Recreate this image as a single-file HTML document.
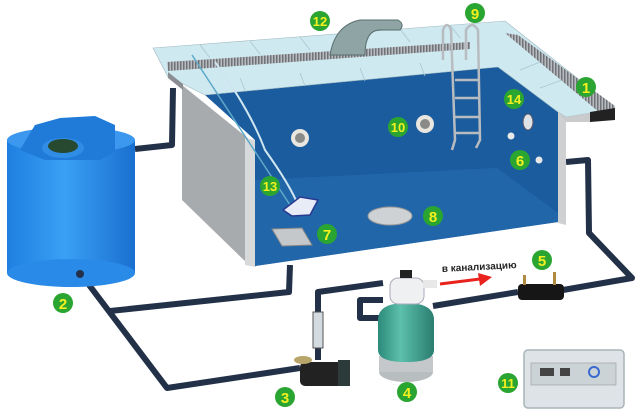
<!DOCTYPE html>
<html><head><meta charset="utf-8"><style>
html,body{margin:0;padding:0;background:#fff;}
svg{display:block}
.lb{font-family:"Liberation Sans",sans-serif;font-weight:bold;font-size:15px;fill:#f4f020;text-anchor:middle}
</style></head><body>
<svg width="640" height="420" viewBox="0 0 640 420" xmlns="http://www.w3.org/2000/svg">
<defs>
<linearGradient id="tank" x1="0" x2="1">
<stop offset="0" stop-color="#1f7fe0"/><stop offset="0.45" stop-color="#3aa0f5"/><stop offset="1" stop-color="#1a6fcf"/></linearGradient>
<linearGradient id="filt" x1="0" x2="1">
<stop offset="0" stop-color="#2c8a7a"/><stop offset="0.4" stop-color="#5cc0ac"/><stop offset="1" stop-color="#2a7d70"/></linearGradient>
<pattern id="grate" width="3" height="3" patternUnits="userSpaceOnUse"><rect width="3" height="3" fill="#b8bcc0"/><rect width="1.5" height="3" fill="#6f7378"/></pattern>
</defs>

<!-- pipes -->
<g stroke="#223148" stroke-width="6" fill="none" stroke-linejoin="round">
<polyline points="135,149 172,145 173,88"/>
<polyline points="290,265 289,292 110,311"/>
<polyline points="80,273 167,388 300,368"/>
<polyline points="318,360 318,292 383,283"/>
<polyline points="383,300 360,300 360,318 380,318"/>
<polyline points="433,306 518,292"/>
<polyline points="563,290 632,278 589,233 588,160 566,162"/>
</g>

<!-- tank -->
<rect x="7" y="140" width="128" height="133" fill="url(#tank)"/>
<ellipse cx="71" cy="273" rx="64" ry="14" fill="#2a8ae8"/>
<ellipse cx="71" cy="140" rx="64" ry="13" fill="#3b98ee"/>
<polygon points="35,125 60,118 95,116 115,125 115,152 100,160 45,160 20,150" fill="#1f7ad8"/>
<ellipse cx="63" cy="148" rx="21" ry="10" fill="#2f8de6"/>
<ellipse cx="63" cy="146" rx="15" ry="7" fill="#27492f"/>
<circle cx="80" cy="274" r="4" fill="#223148"/>

<!-- pool left gray wall -->
<polygon points="182,85 250,140 250,266 182,200" fill="#a8abae"/>
<polygon points="245,138 256,140 256,267 245,265" fill="#d8d9da"/>
<!-- interior -->
<polygon points="205,95 498,67 558,112 558,222 255,266 255,140" fill="#1b5c9e"/>
<polygon points="255,180 497,168 558,213 558,222 255,266" fill="#2266aa"/>
<polygon points="558,112 566,117 566,225 558,223" fill="#cfd0d2"/>

<!-- deck -->
<polygon points="153,48 505,21 615,108 590,113 566,117 558,112 498,67 205,95 183,84 168,77" fill="#cfe9f1" stroke="#9fb8c0" stroke-width="0.6"/>
<polygon points="167,62 470,42 470,49 168,71" fill="url(#grate)"/>
<polygon points="505,33 518,35 615,106 615,112 600,113" fill="url(#grate)"/>
<polygon points="168,72 183,84 183,90 168,78" fill="#8a8e92"/>
<polygon points="590,112 615,108 615,120 590,122" fill="#222"/>
<polygon points="558,112 566,117 590,113 590,122 566,122" fill="#c9cbcd"/>
<g stroke="#a9c6cf" stroke-width="0.8">
<line x1="200" y1="45" x2="210" y2="58"/><line x1="250" y1="41" x2="260" y2="54"/><line x1="300" y1="37" x2="310" y2="50"/><line x1="400" y1="29" x2="410" y2="42"/><line x1="450" y1="25" x2="460" y2="38"/>
<line x1="240" y1="78" x2="245" y2="90"/><line x1="300" y1="73" x2="305" y2="86"/><line x1="360" y1="68" x2="365" y2="81"/><line x1="420" y1="63" x2="425" y2="76"/>
<line x1="520" y1="70" x2="540" y2="62"/><line x1="540" y1="88" x2="562" y2="80"/>
</g>

<!-- waterfall -->
<path d="M330,55 Q335,25 360,20 L398,20 Q405,24 400,30 L380,30 Q365,30 365,55 Z" fill="#8fa4a4" stroke="#5a6f70" stroke-width="1"/>

<!-- ladder -->
<g stroke="#b8bcc0" stroke-width="2.5" fill="none">
<path d="M443,60 L443,30 Q447,20 451,30 L455,140 L452,150"/>
<path d="M466,60 L466,30 Q472,20 478,30 L480,140 L476,148"/>
<line x1="455" y1="80" x2="480" y2="80"/><line x1="455" y1="98" x2="480" y2="98"/><line x1="455" y1="117" x2="480" y2="117"/><line x1="455" y1="133" x2="480" y2="133"/>
</g>

<!-- vacuum hoses -->
<path d="M192,55 L290,205" stroke="#5da9c8" stroke-width="1.5" fill="none"/>
<path d="M215,62 Q250,110 265,150 Q290,185 298,205" stroke="#cfe6f0" stroke-width="2" fill="none"/>
<polygon points="283,210 300,197 318,200 310,215 292,216" fill="#e8ecf6" stroke="#2a3a90" stroke-width="1.5"/>

<!-- fittings -->
<circle cx="300" cy="138" r="9" fill="#e9e6df"/><circle cx="300" cy="138" r="5" fill="#8a8b88"/>
<circle cx="425" cy="124" r="9" fill="#e9e6df"/><circle cx="425" cy="124" r="5" fill="#8a8b88"/>
<ellipse cx="528" cy="122" rx="5" ry="8" fill="#dfe3e8" stroke="#556" stroke-width="1"/>
<circle cx="511" cy="136" r="3.5" fill="#e8e8e8"/><circle cx="539" cy="160" r="3.5" fill="#e8e8e8"/>
<ellipse cx="390" cy="216" rx="22" ry="9" fill="#cfd2d4" stroke="#999" stroke-width="1"/>
<polygon points="272,229 302,228 312,245 282,246" fill="#c5c8ca" stroke="#888" stroke-width="1"/>

<!-- pump -->
<rect x="300" y="362" width="48" height="24" rx="5" fill="#222"/>
<rect x="338" y="360" width="12" height="26" fill="#2c3a3a"/>
<ellipse cx="303" cy="360" rx="9" ry="4" fill="#b8a56a"/>
<rect x="313" y="312" width="10" height="36" fill="#d4dbe0" stroke="#555" stroke-width="1"/>

<!-- filter -->
<ellipse cx="406" cy="372" rx="27" ry="10" fill="#b8bdbf"/>
<rect x="379" y="356" width="54" height="16" fill="#c4c8ca"/>
<path d="M378,320 Q378,303 406,303 Q434,303 434,320 L434,350 Q434,362 406,362 Q378,362 378,350 Z" fill="url(#filt)"/>
<rect x="390" y="278" width="34" height="26" rx="8" fill="#eef0f2" stroke="#aab" stroke-width="1"/>
<rect x="400" y="270" width="12" height="8" fill="#222"/>
<rect x="423" y="280" width="14" height="8" fill="#e8e8e8"/>

<!-- arrow -->
<line x1="440" y1="284" x2="480" y2="279" stroke="#e8221c" stroke-width="3"/>
<polygon points="478,273 492,277 480,286" fill="#e8221c"/>
<text x="442" y="272" font-family="Liberation Sans,sans-serif" font-size="10" font-weight="bold" fill="#222" transform="rotate(-3 442 272)">в канализацию</text>

<!-- heater -->
<rect x="518" y="284" width="46" height="16" rx="4" fill="#161616"/>
<rect x="523" y="275" width="3" height="10" fill="#b08a40"/><rect x="553" y="272" width="3" height="13" fill="#b08a40"/>

<!-- control box -->
<rect x="524" y="350" width="100" height="58" rx="4" fill="#dde3e6" stroke="#aab4b8" stroke-width="1.5"/>
<rect x="531" y="363" width="85" height="22" fill="#cbd3d6" stroke="#999" stroke-width="0.6"/>
<rect x="540" y="368" width="14" height="8" fill="#444"/><rect x="560" y="368" width="10" height="8" fill="#444"/>
<circle cx="594" cy="372" r="5" fill="none" stroke="#3a6ad0" stroke-width="2"/>

<!-- labels -->
<g>
<circle cx="586" cy="87" r="10" fill="#2aa531"/><text class="lb" x="586" y="93">1</text>
<circle cx="63" cy="303" r="10" fill="#2aa531"/><text class="lb" x="63" y="309">2</text>
<circle cx="285" cy="397" r="10" fill="#2aa531"/><text class="lb" x="285" y="403">3</text>
<circle cx="407" cy="392" r="10" fill="#2aa531"/><text class="lb" x="407" y="398">4</text>
<circle cx="542" cy="260" r="10" fill="#2aa531"/><text class="lb" x="542" y="266">5</text>
<circle cx="520" cy="160" r="10" fill="#2aa531"/><text class="lb" x="520" y="166">6</text>
<circle cx="327" cy="234" r="10" fill="#2aa531"/><text class="lb" x="327" y="240">7</text>
<circle cx="433" cy="216" r="10" fill="#2aa531"/><text class="lb" x="433" y="222">8</text>
<circle cx="475" cy="13" r="10" fill="#2aa531"/><text class="lb" x="475" y="19">9</text>
<circle cx="398" cy="127" r="10" fill="#2aa531"/><text class="lb" x="398" y="132" style="font-size:13px">10</text>
<circle cx="508" cy="383" r="10" fill="#2aa531"/><text class="lb" x="508" y="388" style="font-size:13px">11</text>
<circle cx="320" cy="21" r="10" fill="#2aa531"/><text class="lb" x="320" y="26" style="font-size:13px">12</text>
<circle cx="270" cy="186" r="10" fill="#2aa531"/><text class="lb" x="270" y="191" style="font-size:13px">13</text>
<circle cx="514" cy="99" r="10" fill="#2aa531"/><text class="lb" x="514" y="104" style="font-size:13px">14</text>
</g>
</svg>
</body></html>
